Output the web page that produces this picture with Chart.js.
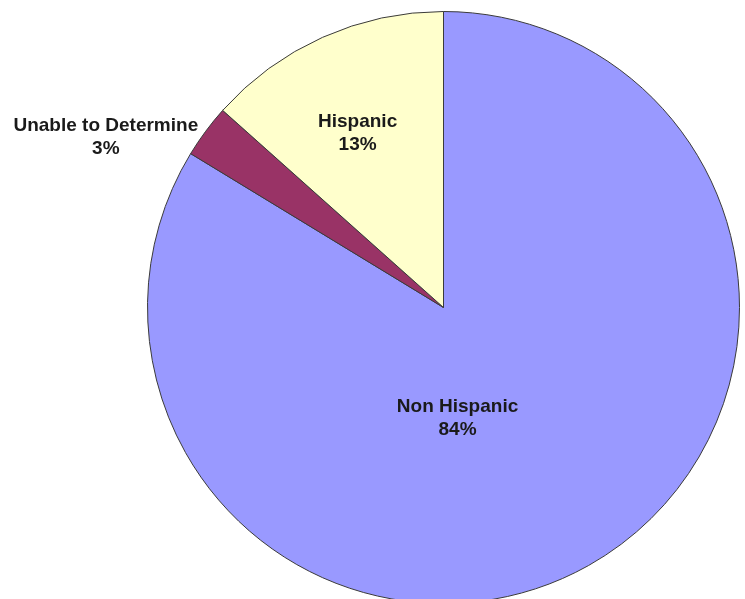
<!DOCTYPE html>
<html>
<head>
<meta charset="utf-8">
<script src="https://cdn.jsdelivr.net/npm/chart.js@4.4.1/dist/chart.umd.min.js"></script>
<style>
  html, body { margin: 0; padding: 0; background: #fff; overflow: hidden; }
  #wrap { width: 745px; height: 599px; overflow: hidden; }
</style>
</head>
<body>
<div id="wrap"><canvas id="pieChart" width="745" height="610"></canvas></div>
<script>
// slices clockwise from 12 o'clock
const categories = ['Non Hispanic', 'Unable to Determine', 'Hispanic'];
const shares = [83.7, 2.9, 13.4];
const sliceColors = ['#9999FF', '#993366', '#FFFFCC'];
// label placement: angle (deg, clockwise from top) and distance as fraction of radius
const labelAngles = [172.8, 296.7, 333.7];
const labelDist = [0.378, 1.277, 0.655];

const total = shares.reduce((a, b) => a + b, 0);

const pieLabels = {
    id: 'pieLabels',
    afterDatasetsDraw(chart) {
        const ctx = chart.ctx;
        const arc = chart.getDatasetMeta(0).data[0];
        const cx = arc.x, cy = arc.y, r = arc.outerRadius;
        ctx.save();
        ctx.font = 'bold 19px "Liberation Sans", Arial, sans-serif';
        ctx.fillStyle = '#1a1a1a';
        ctx.textAlign = 'center';
        ctx.textBaseline = 'middle';
        categories.forEach((name, i) => {
            const a = labelAngles[i] * Math.PI / 180;
            const x = cx + Math.sin(a) * r * labelDist[i];
            const y = cy - Math.cos(a) * r * labelDist[i];
            const pct = Math.round(shares[i] / total * 100) + '%';
            ctx.fillText(name, x, y - 11.5);
            ctx.fillText(pct, x, y + 11.5);
        });
        ctx.restore();
    }
};

new Chart(document.getElementById('pieChart').getContext('2d'), {
    type: 'pie',
    data: {
        labels: categories,
        datasets: [{
            data: shares,
            backgroundColor: sliceColors,
            borderColor: '#3a3a3a',
            borderWidth: 1,
            hoverOffset: 0
        }]
    },
    options: {
        responsive: false,
        animation: false,
        devicePixelRatio: 1,
        layout: {padding: {left: 147, right: 5, top: 11, bottom: 6}},
        plugins: {
            legend: {display: false},
            tooltip: {enabled: false}
        },
        events: []
    },
    plugins: [pieLabels]
});
</script>
</body>
</html>
